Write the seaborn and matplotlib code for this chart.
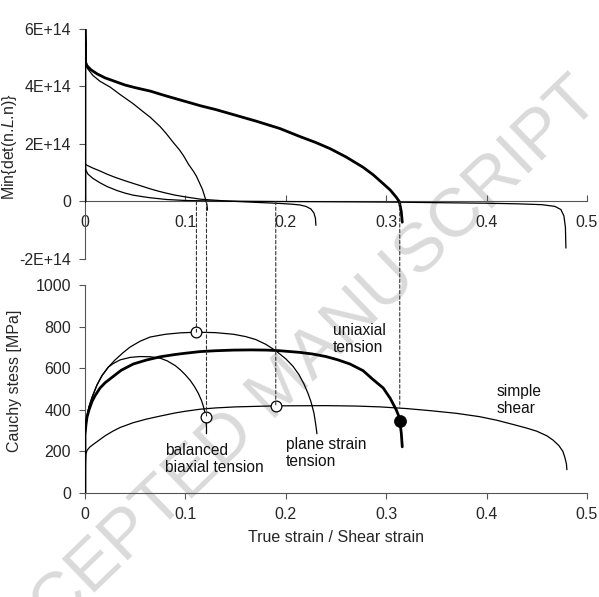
import numpy as np
import pandas as pd
import matplotlib
matplotlib.use("Agg")
import matplotlib.pyplot as plt
import seaborn as sns
from matplotlib.patches import ConnectionPatch

sns.set_theme(style="white")
plt.rcParams['font.family'] = ['Liberation Sans', 'DejaVu Sans']
plt.rcParams['mathtext.fontset'] = 'custom'
plt.rcParams['mathtext.rm'] = 'Liberation Sans'
plt.rcParams['mathtext.it'] = 'Liberation Sans:italic'

# ---------------- data: top panel (Min det(n.L.n)) ----------------
uni_top_x = [0.0, 0.0, 0.0005, 0.002, 0.006, 0.012, 0.02, 0.028, 0.04, 0.05, 0.065, 0.08, 0.1, 0.115, 0.13, 0.15,
             0.17, 0.194, 0.214, 0.23, 0.244, 0.26, 0.277, 0.287, 0.297, 0.304, 0.31, 0.313, 0.315, 0.316]
uni_top_y = [0.0, 6.0e14, 4.85e14, 4.72e14, 4.58e14, 4.44e14, 4.3e14, 4.2e14, 4.05e14, 3.96e14, 3.84e14, 3.68e14,
             3.48e14, 3.33e14, 3.2e14, 3.0e14, 2.8e14, 2.54e14, 2.26e14, 2.05e14, 1.84e14, 1.55e14, 1.19e14,
             0.93e14, 0.62e14, 0.4e14, 0.15e14, 0.0, -0.35e14, -0.72e14]

bbt_top_x = [0.0, 0.003, 0.008, 0.015, 0.025, 0.035, 0.048, 0.058, 0.065, 0.075, 0.081, 0.088, 0.094, 0.098, 0.103,
             0.108, 0.111, 0.114, 0.117, 0.119, 0.1205, 0.1215, 0.122]
bbt_top_y = [4.8e14, 4.6e14, 4.38e14, 4.18e14, 3.98e14, 3.72e14, 3.4e14, 3.12e14, 2.93e14, 2.6e14, 2.36e14, 2.05e14,
             1.8e14, 1.6e14, 1.3e14, 1.05e14, 0.88e14, 0.65e14, 0.42e14, 0.2e14, 0.03e14, -0.12e14, -0.3e14]

pst_top_x = [0.0, 0.002, 0.008, 0.015, 0.022, 0.03, 0.04, 0.048, 0.057, 0.065, 0.073, 0.081, 0.09, 0.1, 0.115,
             0.14, 0.17, 0.19, 0.205, 0.214, 0.22, 0.225, 0.228, 0.2295, 0.23]
pst_top_y = [1.3e14, 1.26e14, 1.16e14, 1.06e14, 0.95e14, 0.84e14, 0.72e14, 0.63e14, 0.53e14, 0.44e14, 0.36e14,
             0.29e14, 0.22e14, 0.16e14, 0.08e14, 0.02e14, -0.03e14, -0.06e14, -0.09e14, -0.12e14, -0.17e14,
             -0.26e14, -0.4e14, -0.58e14, -0.83e14]

ss_top_x = [0.0, 0.001, 0.003, 0.008, 0.015, 0.022, 0.032, 0.04, 0.048, 0.057, 0.065, 0.081, 0.1, 0.125, 0.15, 0.19,
            0.25, 0.3, 0.35, 0.4, 0.43, 0.455, 0.468, 0.474, 0.477, 0.4785, 0.479]
ss_top_y = [1.2e14, 1.08e14, 0.95e14, 0.8e14, 0.65e14, 0.52e14, 0.38e14, 0.29e14, 0.22e14, 0.17e14, 0.13e14,
            0.07e14, 0.035e14, 0.02e14, 0.01e14, 0.0, -0.01e14, -0.02e14, -0.04e14, -0.06e14, -0.08e14,
            -0.11e14, -0.17e14, -0.28e14, -0.5e14, -0.9e14, -1.62e14]

# ---------------- data: bottom panel (Cauchy stress) ----------------
uni_x = [0.0, 0.0, 0.001, 0.002, 0.004, 0.007, 0.01, 0.015, 0.02, 0.028, 0.036, 0.048, 0.061, 0.075, 0.09, 0.1,
         0.115, 0.13, 0.148, 0.165, 0.181, 0.194, 0.214, 0.227, 0.24, 0.252, 0.264, 0.277, 0.287, 0.297, 0.304,
         0.31, 0.3125, 0.3135, 0.315, 0.316]
uni_y = [0, 280, 330, 365, 400, 440, 468, 505, 530, 560, 590, 620, 639, 655, 666, 672, 680, 684, 687, 688, 687,
         684, 676, 668, 656, 640, 620, 588, 545, 505, 455, 400, 370, 345, 290, 222]

pst_x = [0.0, 0.0, 0.001, 0.002, 0.004, 0.007, 0.012, 0.017, 0.0232, 0.03, 0.038, 0.045, 0.055, 0.065, 0.08, 0.095,
         0.111, 0.13, 0.148, 0.16, 0.17, 0.18, 0.19, 0.2, 0.207, 0.213, 0.218, 0.222, 0.225, 0.228, 0.2295,
         0.2305, 0.231]
pst_y = [0, 280, 330, 370, 415, 460, 520, 565, 605, 640, 675, 702, 730, 750, 763, 770, 773, 771, 763, 752, 738,
         715, 684, 645, 610, 570, 525, 480, 440, 385, 340, 305, 285]

bbt_x = [0.0, 0.0, 0.001, 0.002, 0.004, 0.007, 0.012, 0.017, 0.0232, 0.028, 0.035, 0.045, 0.055, 0.065, 0.075,
         0.082, 0.09, 0.095, 0.1, 0.105, 0.109, 0.113, 0.116, 0.118, 0.1195, 0.1205, 0.121, 0.121]
bbt_y = [0, 280, 330, 370, 415, 460, 520, 565, 605, 622, 640, 652, 656, 655, 648, 635, 612, 592, 568, 540, 512,
         478, 445, 415, 385, 350, 320, 285]

ss_x = [0.0, 0.0003, 0.0008, 0.002, 0.005, 0.01, 0.0146, 0.02, 0.028, 0.035, 0.048, 0.061, 0.075, 0.09, 0.1,
        0.115, 0.13, 0.15, 0.19, 0.24, 0.27, 0.294, 0.32, 0.3436, 0.37, 0.393, 0.41, 0.426, 0.44, 0.45, 0.46,
        0.466, 0.472, 0.476, 0.478, 0.4795, 0.48]
ss_y = [0, 120, 185, 205, 222, 240, 256, 275, 298, 315, 338, 355, 370, 385, 393, 403, 409, 414, 419, 420, 418,
        414, 406, 396, 383, 367, 350, 330, 312, 297, 275, 255, 228, 200, 170, 140, 112]

open_pts_x = [0.111, 0.121, 0.19]
open_pts_y = [773, 364, 420]
fail_pt_x = [0.3135]
fail_pt_y = [345]

dash_x = [0.111, 0.121, 0.19, 0.3135]
dash_y_end = [773, 364, 420, 413]

top_yticks = [-2e14, 0, 2e14, 4e14, 6e14]
top_yticklabels = ["-2E+14", "0", "2E+14", "4E+14", "6E+14"]
xticks = [0, 0.1, 0.2, 0.3, 0.4, 0.5]
xticklabels = ["0", "0.1", "0.2", "0.3", "0.4", "0.5"]
bot_yticks = [0, 200, 400, 600, 800, 1000]

labels_text = ["uniaxial\ntension", "simple\nshear", "plane strain\ntension", "balanced\nbiaxial tension"]
labels_x = [0.247, 0.41, 0.2, 0.08]
labels_y = [740, 447, 192, 163]

# ---------------- figure ----------------
W, H = 599, 597
FS = 11.5
fig = plt.figure(figsize=(W / 100, H / 100), dpi=100)
fig.patch.set_facecolor("white")

ax1 = fig.add_axes([85 / W, 1 - 259 / H, 502 / W, 230 / H])
ax2 = fig.add_axes([85 / W, 1 - 493 / H, 502 / W, 208 / H])
for ax in (ax1, ax2):
    ax.set_facecolor("none")

spine_col = "#555555"
thin = 0.9
thick = 2.0

def line(ax, x, y, lw):
    df = pd.DataFrame({"x": x, "y": y})
    sns.lineplot(data=df, x="x", y="y", ax=ax, sort=False, estimator=None,
                 color="black", linewidth=lw, zorder=3)

line(ax1, ss_top_x, ss_top_y, thin)
line(ax1, pst_top_x, pst_top_y, thin)
line(ax1, bbt_top_x, bbt_top_y, thin)
line(ax1, uni_top_x, uni_top_y, thick)

line(ax2, ss_x, ss_y, thin)
line(ax2, pst_x, pst_y, thin)
line(ax2, bbt_x, bbt_y, thin)
line(ax2, uni_x, uni_y, thick)

sns.scatterplot(x=open_pts_x, y=open_pts_y, ax=ax2, s=60, facecolor="white",
                edgecolor="black", linewidth=0.9, zorder=5)
sns.scatterplot(x=fail_pt_x, y=fail_pt_y, ax=ax2, s=75, color="black",
                edgecolor="black", linewidth=0.5, zorder=5)

# top axes styling
ax1.set_xlim(0, 0.5)
ax1.set_ylim(-2e14, 6e14)
ax1.spines["top"].set_visible(False)
ax1.spines["right"].set_visible(False)
ax1.spines["bottom"].set_position(("data", 0))
for s in ("left", "bottom"):
    ax1.spines[s].set_color(spine_col)
    ax1.spines[s].set_linewidth(0.8)
ax1.set_yticks(top_yticks)
ax1.set_yticklabels(top_yticklabels)
ax1.set_xticks(xticks)
ax1.set_xticklabels(xticklabels)
ax1.tick_params(axis="x", direction="in", length=4, width=0.8, color=spine_col,
                pad=10, labelsize=FS, bottom=True)
ax1.tick_params(axis="y", direction="out", length=4, width=0.8, color=spine_col,
                pad=6, labelsize=FS, left=True)
ax1.set_xlabel("")
ax1.set_ylabel(r"Min{det(n.$L$.n)}", fontsize=FS)
ax1.yaxis.set_label_coords(-0.131, 0.49)

# bottom axes styling
ax2.set_xlim(0, 0.5)
ax2.set_ylim(0, 1000)
ax2.spines["top"].set_visible(False)
ax2.spines["right"].set_visible(False)
for s in ("left", "bottom"):
    ax2.spines[s].set_color(spine_col)
    ax2.spines[s].set_linewidth(0.8)
ax2.set_xticks(xticks)
ax2.set_xticklabels(xticklabels)
ax2.set_yticks(bot_yticks)
ax2.tick_params(axis="both", direction="out", length=4, width=0.8, color=spine_col,
                labelsize=FS, bottom=True, left=True)
ax2.tick_params(axis="x", pad=6)
ax2.tick_params(axis="y", pad=6)
ax2.set_xlabel("True strain / Shear strain", fontsize=FS)
ax2.xaxis.set_label_coords(0.5, -0.18)
ax2.set_ylabel("Cauchy stess [MPa]", fontsize=FS)
ax2.yaxis.set_label_coords(-0.125, 0.54)

for t, x, y in zip(labels_text, labels_x, labels_y):
    ax2.text(x, y, t, fontsize=FS - 0.3, ha="left", va="center", color="#111111", zorder=6)

# dashed connectors from the zero-crossings (top) to the markers (bottom)
for x, y in zip(dash_x, dash_y_end):
    con = ConnectionPatch(xyA=(x, 0), coordsA=ax1.transData,
                          xyB=(x, y), coordsB=ax2.transData,
                          linestyle=(0, (3, 2)), linewidth=0.8, color="#333333", zorder=2)
    fig.add_artist(con)

# watermark
fig.text(0.47, 0.35, "ACCEPTED MANUSCRIPT", rotation=44, fontsize=50,
         color="#dadada", ha="center", va="center", zorder=-5,
         rotation_mode="anchor")

fig.savefig("out.png", dpi=100)
